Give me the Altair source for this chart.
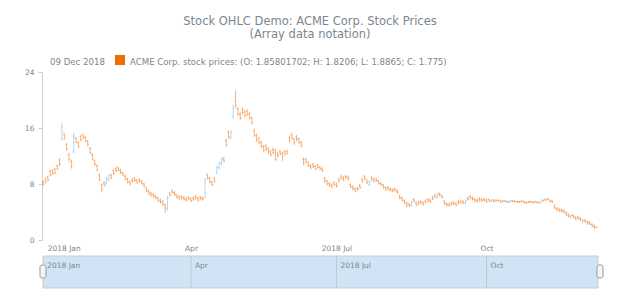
import altair as alt
import pandas as pd

# ---- data (one bar per trading day, Jan..Dec 2018) ----
OPEN = [
    8.3, 8.7, 9.0, 9.8, 9.9, 10.1, 10.6, 11.4, 14.4, 15.1,
    13.6, 12.2, 11.2, 12.6, 14.5, 13.9, 14.8, 15.0, 14.7, 14.1,
    13.1, 12.2, 11.3, 10.6, 9.3, 7.9, 8.2, 8.1, 8.6, 9.3,
    9.9, 10.2, 10.3, 10.0, 9.6, 9.1, 8.7, 8.3, 8.6, 8.8,
    8.5, 8.6, 8.4, 8.0, 7.4, 7.0, 6.7, 6.5, 6.3, 6.0,
    5.7, 5.5, 5.0, 4.5, 6.7, 7.0, 6.8, 6.4, 6.2, 6.2,
    6.1, 5.9, 6.1, 5.9, 6.0, 6.2, 6.0, 6.1, 6.0, 6.1,
    9.3, 8.8, 8.3, 8.8, 9.6, 10.3, 10.9, 11.7, 14.2, 15.4,
    14.6, 17.6, 19.8, 18.7, 18.0, 18.6, 18.3, 18.4, 18.0, 17.3,
    15.6, 14.9, 14.5, 13.9, 13.3, 13.4, 13.0, 12.6, 12.9, 12.8,
    12.4, 12.6, 12.4, 12.6, 12.7, 14.6, 15.0, 14.3, 14.7, 14.4,
    13.9, 11.5, 11.5, 11.0, 10.6, 10.8, 10.5, 10.7, 10.4, 10.2,
    8.8, 8.4, 8.1, 7.9, 8.2, 8.0, 8.7, 9.1, 8.9, 9.1,
    9.0, 7.9, 7.6, 7.3, 7.4, 7.8, 8.7, 9.1, 8.5, 7.9,
    8.9, 8.7, 8.7, 8.4, 8.1, 7.8, 7.5, 7.5, 7.3, 7.2,
    7.3, 7.0, 6.3, 6.0, 5.6, 5.3, 5.1, 5.0, 5.8, 5.3,
    5.4, 5.5, 5.3, 5.6, 5.8, 5.7, 6.1, 6.4, 6.1, 6.6,
    6.3, 5.5, 5.2, 5.1, 5.3, 5.4, 5.2, 5.5, 5.6, 5.5,
    5.3, 6.0, 6.2, 6.0, 5.8, 5.7, 5.9, 5.8, 5.8, 5.7,
    5.8, 5.5, 5.7, 5.7, 5.7, 5.6, 5.6, 5.6, 5.5, 5.4,
    5.6, 5.6, 5.5, 5.5, 5.6, 5.5, 5.4, 5.5, 5.5, 5.4,
    5.5, 5.4, 5.3, 5.7, 5.8, 5.9, 5.7, 5.6, 4.9, 4.5,
    4.4, 4.3, 4.2, 3.9, 3.6, 3.3, 3.5, 3.2, 3.3, 3.1,
    2.6, 2.8, 2.6, 2.5, 2.2, 2.0, 1.85801702,
]
HIGH = [
    8.5, 8.9, 9.2, 10.0, 10.1, 10.3, 10.8, 11.7, 16.8, 15.3,
    13.9, 12.5, 11.5, 15.3, 14.7, 14.1, 15.0, 15.2, 14.9, 14.3,
    13.3, 12.4, 11.5, 10.8, 9.5, 8.1, 8.4, 9.0, 9.4, 9.5,
    10.1, 10.4, 10.5, 10.2, 9.8, 9.3, 8.9, 8.5, 8.8, 9.0,
    8.7, 8.8, 8.6, 8.2, 7.6, 7.2, 6.9, 6.7, 6.5, 6.2,
    5.9, 5.7, 5.2, 6.3, 6.9, 7.2, 7.0, 6.6, 6.4, 6.4,
    6.3, 6.1, 6.3, 6.1, 6.2, 6.4, 6.2, 6.3, 6.2, 8.8,
    9.5, 9.0, 8.5, 9.0, 10.6, 11.2, 11.8, 11.9, 14.5, 15.6,
    15.7, 19.3, 21.4, 19.0, 18.3, 18.9, 18.6, 18.7, 18.3, 17.6,
    15.9, 15.2, 14.8, 14.2, 13.6, 13.7, 13.3, 12.9, 13.2, 13.0,
    12.6, 12.8, 12.6, 12.8, 12.9, 14.9, 15.3, 14.6, 15.0, 14.7,
    14.2, 11.8, 11.7, 11.2, 10.8, 11.0, 10.7, 10.9, 10.6, 10.4,
    9.0, 8.6, 8.3, 8.1, 8.4, 8.2, 8.9, 9.3, 9.1, 9.3,
    9.2, 8.1, 7.8, 7.5, 7.6, 8.0, 8.9, 9.3, 8.7, 8.5,
    9.1, 8.9, 8.9, 8.6, 8.3, 8.0, 7.7, 7.7, 7.5, 7.4,
    7.5, 7.2, 6.5, 6.2, 5.8, 5.5, 5.3, 5.6, 6.0, 5.5,
    5.6, 5.7, 5.5, 5.8, 6.0, 5.9, 6.3, 6.6, 6.8, 6.8,
    6.5, 5.7, 5.4, 5.3, 5.5, 5.6, 5.4, 5.7, 5.8, 5.7,
    5.8, 6.2, 6.4, 6.2, 6.0, 5.9, 6.1, 6.0, 6.0, 5.9,
    5.9, 5.8, 5.8, 5.8, 5.8, 5.7, 5.7, 5.7, 5.6, 5.7,
    5.7, 5.7, 5.6, 5.6, 5.7, 5.6, 5.5, 5.6, 5.6, 5.5,
    5.6, 5.5, 5.6, 5.8, 5.9, 6.0, 5.8, 5.7, 5.1, 4.7,
    4.6, 4.5, 4.4, 4.1, 3.8, 3.7, 3.7, 3.4, 3.5, 3.3,
    3.0, 3.0, 2.8, 2.7, 2.4, 2.2, 1.8206,
]
LOW = [
    7.7, 8.1, 8.4, 9.1, 9.3, 9.4, 10.0, 10.5, 14.2, 14.3,
    12.8, 11.2, 10.2, 12.4, 13.8, 13.1, 14.1, 14.4, 14.0, 13.4,
    12.3, 11.4, 10.6, 9.8, 8.4, 6.8, 7.6, 7.9, 8.4, 8.7,
    9.3, 9.7, 9.8, 9.4, 9.1, 8.5, 8.1, 7.8, 8.2, 8.3,
    8.0, 8.2, 7.9, 7.5, 6.8, 6.4, 6.2, 6.0, 5.8, 5.4,
    5.2, 4.9, 3.9, 4.2, 6.2, 6.6, 6.3, 5.9, 5.7, 5.8,
    5.6, 5.5, 5.7, 5.4, 5.6, 5.8, 5.5, 5.7, 5.6, 6.0,
    8.7, 8.1, 7.7, 8.2, 9.4, 10.1, 10.7, 11.1, 13.3, 14.5,
    14.4, 17.3, 18.9, 17.7, 17.1, 17.9, 17.5, 17.7, 17.2, 16.5,
    14.7, 14.0, 13.7, 13.1, 12.5, 12.7, 12.3, 11.9, 12.2, 11.3,
    11.8, 12.1, 11.3, 12.1, 12.2, 13.9, 14.3, 13.6, 14.1, 13.7,
    13.2, 10.7, 11.0, 10.4, 10.1, 10.3, 10.0, 10.2, 9.9, 9.7,
    8.2, 7.8, 7.6, 7.4, 7.7, 7.5, 8.2, 8.6, 8.4, 8.7,
    8.5, 7.4, 7.1, 6.8, 7.0, 7.3, 8.2, 8.6, 8.0, 7.7,
    8.4, 8.2, 8.3, 7.9, 7.7, 7.3, 7.0, 7.1, 6.9, 6.8,
    6.9, 6.6, 5.8, 5.5, 5.1, 4.6, 4.7, 4.8, 5.4, 4.8,
    5.0, 5.1, 4.9, 5.2, 5.4, 5.3, 5.7, 6.0, 5.9, 6.2,
    5.9, 5.0, 4.8, 4.7, 4.9, 5.0, 4.8, 5.1, 5.2, 5.1,
    5.1, 5.6, 5.8, 5.6, 5.4, 5.3, 5.5, 5.4, 5.5, 5.3,
    5.5, 5.4, 5.4, 5.5, 5.5, 5.3, 5.4, 5.4, 5.3, 5.3,
    5.4, 5.4, 5.3, 5.3, 5.4, 5.2, 5.2, 5.3, 5.3, 5.2,
    5.3, 5.2, 5.2, 5.5, 5.6, 5.7, 5.4, 5.3, 4.4, 4.1,
    4.0, 3.9, 3.8, 3.4, 3.2, 3.1, 3.1, 2.8, 2.9, 2.7,
    2.4, 2.4, 2.2, 2.1, 1.8, 1.6, 1.8865,
]
CLOSE = [
    8.0, 8.3, 8.6, 9.3, 9.5, 9.6, 10.2, 10.8, 16.2, 14.6,
    13.0, 11.5, 10.5, 14.8, 14.0, 13.3, 14.3, 14.6, 14.2, 13.6,
    12.5, 11.6, 10.8, 10.0, 8.6, 7.2, 7.8, 8.8, 9.2, 8.9,
    9.5, 9.9, 10.0, 9.6, 9.3, 8.7, 8.3, 8.0, 8.4, 8.5,
    8.2, 8.4, 8.1, 7.7, 7.0, 6.6, 6.4, 6.2, 6.0, 5.6,
    5.4, 5.1, 4.6, 6.0, 6.4, 6.8, 6.5, 6.1, 5.9, 6.0,
    5.8, 5.7, 5.9, 5.6, 5.8, 6.0, 5.7, 5.9, 5.8, 8.6,
    8.9, 8.3, 7.9, 8.4, 10.4, 11.0, 11.5, 11.3, 13.6, 14.8,
    15.4, 18.8, 19.2, 18.0, 17.4, 18.2, 17.8, 18.0, 17.5, 16.8,
    15.0, 14.3, 14.0, 13.4, 12.8, 13.0, 12.6, 12.2, 12.5, 11.5,
    12.0, 12.3, 12.0, 12.3, 12.4, 14.2, 14.6, 13.9, 14.4, 14.0,
    13.5, 11.0, 11.2, 10.6, 10.3, 10.5, 10.2, 10.4, 10.1, 9.9,
    8.4, 8.0, 7.8, 7.6, 7.9, 7.7, 8.4, 8.8, 8.6, 8.9,
    8.7, 7.6, 7.3, 7.0, 7.2, 7.5, 8.4, 8.8, 8.2, 8.3,
    8.6, 8.4, 8.5, 8.1, 7.9, 7.5, 7.2, 7.3, 7.1, 7.0,
    7.1, 6.8, 6.0, 5.7, 5.3, 5.0, 4.9, 5.4, 5.6, 5.0,
    5.2, 5.3, 5.1, 5.4, 5.6, 5.5, 5.9, 6.2, 6.5, 6.4,
    6.1, 5.2, 5.0, 4.9, 5.1, 5.2, 5.0, 5.3, 5.4, 5.3,
    5.6, 5.8, 6.0, 5.8, 5.6, 5.5, 5.7, 5.6, 5.7, 5.5,
    5.6, 5.7, 5.5, 5.6, 5.6, 5.4, 5.5, 5.5, 5.4, 5.6,
    5.5, 5.5, 5.4, 5.4, 5.5, 5.3, 5.3, 5.4, 5.4, 5.3,
    5.4, 5.3, 5.5, 5.6, 5.7, 5.8, 5.5, 5.4, 4.6, 4.3,
    4.2, 4.1, 4.0, 3.6, 3.4, 3.5, 3.3, 3.0, 3.1, 2.9,
    2.8, 2.6, 2.4, 2.3, 2.0, 1.8, 1.775,
]
TICK_POS = [0, 63, 125, 189]
TICK_LABELS = ["2018 Jan", "Apr", "2018 Jul", "Oct"]
Y_TICKS = [0, 8, 16, 24]

TITLE_1 = "Stock OHLC Demo: ACME Corp. Stock Prices"
TITLE_2 = "(Array data notation)"
LEGEND_DATE = "09 Dec 2018"
LEGEND_TEXT = "ACME Corp. stock prices: (O: 1.85801702; H: 1.8206; L: 1.8865; C: 1.775)"

# ---- tables ----
n = len(CLOSE)
df = pd.DataFrame({"idx": list(range(n)), "open": OPEN, "high": HIGH,
                   "low": LOW, "close": CLOSE})
df["dir"] = ["up" if c >= o else "down" for o, c in zip(OPEN, CLOSE)]
ticks_df = pd.DataFrame({"idx": TICK_POS, "label": TICK_LABELS})
one = pd.DataFrame({"a": [0]})

GRAY = "#7c868e"
FONT = "DejaVu Sans"
W, H = 556, 168

xscale = alt.Scale(domain=[-0.5, n - 0.5], nice=False, zero=False)
yscale = alt.Scale(domain=[0, 24], nice=False, zero=False)
color = alt.Color("dir:N", scale=alt.Scale(domain=["up", "down"],
                                           range=["#64b5f6", "#ef6c00"]), legend=None)

label_expr = ""
for p, l in zip(TICK_POS, TICK_LABELS):
    label_expr += f"datum.value == {p} ? '{l}' : "
label_expr += "''"

x_axis = alt.Axis(values=TICK_POS, labelExpr=label_expr, title=None, grid=False,
                  domain=False, ticks=False, labelFontSize=7.5, labelColor=GRAY,
                  labelFont=FONT, labelPadding=4, labelFlush=10, labelFlushOffset=-4)
y_axis = alt.Axis(values=Y_TICKS, title=None, grid=False, domainColor="#cfcfcf",
                  tickColor="#cfcfcf", tickSize=4, labelFontSize=7.5, labelColor=GRAY,
                  labelFont=FONT, labelPadding=4)

X = alt.X("idx:Q", scale=xscale, axis=x_axis)

base = alt.Chart(df)
hl = base.mark_rule(strokeWidth=1, opacity=0.5).encode(
    x=X, y=alt.Y("low:Q", scale=yscale, axis=y_axis),
    y2="high:Q", color=color)
op = base.mark_rule(strokeWidth=1, opacity=0.5, xOffset=-1.2, x2Offset=0).encode(
    x=X, x2="idx:Q",
    y=alt.Y("open:Q", scale=yscale, axis=y_axis), color=color)
cl = base.mark_rule(strokeWidth=1, opacity=0.5, xOffset=0, x2Offset=1.2).encode(
    x=X, x2="idx:Q",
    y=alt.Y("close:Q", scale=yscale, axis=y_axis), color=color)


def txt(text, x, y, size, align="left"):
    return alt.Chart(one).mark_text(text=text, align=align, baseline="alphabetic",
                                    fontSize=size, font=FONT, color=GRAY).encode(
        x=alt.value(x), y=alt.value(y))


t1 = txt(TITLE_1, 268, -47.5, 11.5, "center")
t2 = txt(TITLE_2, 268, -34, 11.5, "center")
ld = txt(LEGEND_DATE, 8, -7.5, 8.6)
lt = txt(LEGEND_TEXT, 88, -7.5, 8.6)
lsq = alt.Chart(one).mark_rect(color="#ef6c00").encode(
    x=alt.value(73), x2=alt.value(83), y=alt.value(-17), y2=alt.value(-7))

# scroller
SC_TOP, SC_BOT = 184, 216
sc_bg = alt.Chart(one).mark_rect(fill="#d1e4f6", stroke="#c8cdd2", strokeWidth=1).encode(
    x=alt.value(1), x2=alt.value(W), y=alt.value(SC_TOP), y2=alt.value(SC_BOT))
sc_div = alt.Chart(ticks_df).transform_filter("datum.idx > 0").mark_rule(
    color="#bfc9d3", strokeWidth=1).encode(
    x=X, y=alt.value(SC_TOP), y2=alt.value(SC_BOT))
sc_lab = alt.Chart(ticks_df).mark_text(align="left", baseline="alphabetic", dx=4,
                                       fontSize=7.5, font=FONT, color=GRAY).encode(
    x=X, y=alt.value(SC_TOP + 12), text="label:N")
h_left = alt.Chart(one).mark_rect(fill="#f4f4f4", stroke="#9a9a9a", strokeWidth=1,
                                  cornerRadius=2).encode(
    x=alt.value(-2), x2=alt.value(4), y=alt.value(SC_TOP + 9), y2=alt.value(SC_TOP + 22))
h_right = alt.Chart(one).mark_rect(fill="#f4f4f4", stroke="#9a9a9a", strokeWidth=1,
                                   cornerRadius=2).encode(
    x=alt.value(W - 1), x2=alt.value(W + 5), y=alt.value(SC_TOP + 9), y2=alt.value(SC_TOP + 22))

chart = alt.layer(hl, op, cl, t1, t2, ld, lt, lsq, sc_bg, sc_div, sc_lab,
                  h_left, h_right).properties(
    width=W, height=H,
    padding={"left": 42, "top": 72, "right": 22, "bottom": 60},
    autosize=alt.AutoSizeParams(type="none"),
).configure_view(stroke=None)

chart.save("out.html", embed_options={"renderer": "svg", "actions": False})
